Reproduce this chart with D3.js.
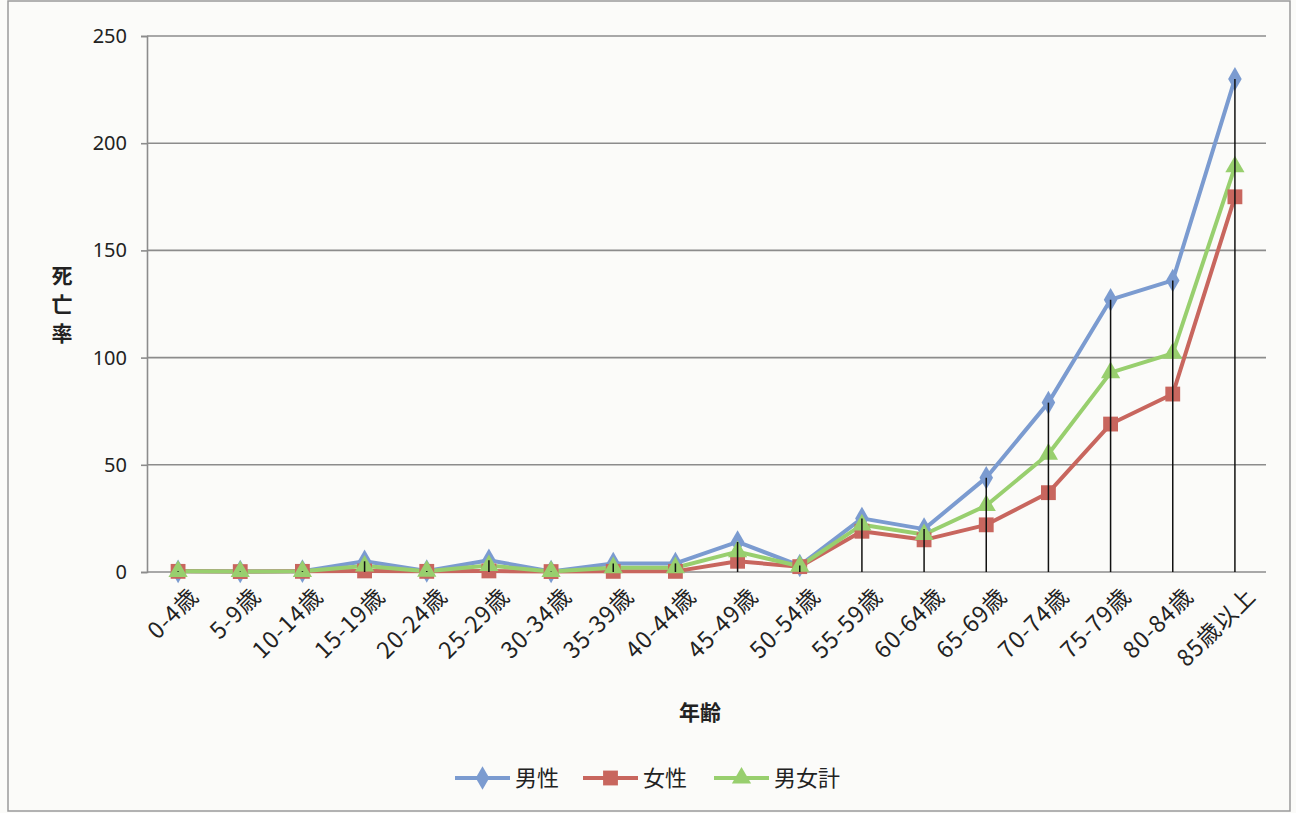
<!DOCTYPE html>
<html><head><meta charset="utf-8">
<script src="https://cdn.jsdelivr.net/npm/d3@7"></script>
<style>
html,body{margin:0;padding:0;background:#fbfbf9;}
svg{display:block;}
text{font-family:"Noto Sans CJK JP","Noto Sans",sans-serif;fill:#222;}
</style></head>
<body>
<svg id="chart" width="1296" height="813"></svg>
<script>
const categories = ["0-4歳","5-9歳","10-14歳","15-19歳","20-24歳","25-29歳","30-34歳","35-39歳","40-44歳","45-49歳","50-54歳","55-59歳","60-64歳","65-69歳","70-74歳","75-79歳","80-84歳","85歳以上"];
const male   = [0.3, 0.2, 0.4, 5, 0.5, 5.5, 0.2, 4, 4, 14, 3, 25, 20, 44, 79, 127, 136, 230];
const female = [0.3, 0.2, 0.3, 0.5, 0.3, 0.5, 0.2, 0.3, 0.3, 5, 2.5, 19, 15, 22, 37, 69, 83, 175];
const total  = [0.3, 0.2, 0.3, 2.8, 0.4, 3, 0.2, 2, 2, 9.5, 2.7, 22, 17.5, 31, 55, 93, 102, 189];
const yTicks = [0, 50, 100, 150, 200, 250];
const seriesNames = ["男性", "女性", "男女計"];
const yTitle = "死亡率";
const xTitle = "年齢";

const series = [
  {name: seriesNames[0], values: male,   color: "#7b9bd0", marker: d3.symbolDiamond, size: 160},
  {name: seriesNames[1], values: female, color: "#c8665e", marker: d3.symbolSquare,  size: 220},
  {name: seriesNames[2], values: total,  color: "#98cf6e", marker: d3.symbolTriangle, size: 160}
];

const svg = d3.select("#chart");
svg.append("rect").attr("x", 8).attr("y", 1).attr("width", 1282).attr("height", 810)
  .attr("fill", "#fbfbf9").attr("stroke", "#9a9a9a").attr("stroke-width", 1.5);

const x = d3.scalePoint().domain(categories).range([147, 1266]).padding(0.5);
const y = d3.scaleLinear().domain([0, 250]).range([572, 36]);

svg.append("g").selectAll("line").data(yTicks.filter(t => t > 0)).join("line")
  .attr("x1", 147).attr("x2", 1266)
  .attr("y1", d => y(d)).attr("y2", d => y(d))
  .attr("stroke", "#8c8c8c").attr("stroke-width", 1.6);

const yAxis = d3.axisLeft(y).tickValues(yTicks).tickSize(6).tickPadding(14);
const gy = svg.append("g").attr("transform", "translate(147,0)").call(yAxis);
gy.select(".domain").attr("stroke", "#8c8c8c").attr("stroke-width", 1.6);
gy.selectAll(".tick line").attr("stroke", "#8c8c8c").attr("stroke-width", 1.6);
gy.selectAll(".tick text").attr("font-size", 20).attr("fill", "#222")
  .style("font-family", '"Noto Sans","Open Sans",sans-serif');

const xAxis = d3.axisBottom(x).tickSize(0).tickPadding(0);
const gx = svg.append("g").attr("transform", `translate(0,${y(0)})`).call(xAxis);
gx.select(".domain").attr("stroke", "#8c8c8c").attr("stroke-width", 1.6).attr("d", `M147,0H1266`);
gx.selectAll(".tick text")
  .attr("font-size", 23).attr("fill", "#222")
  .attr("letter-spacing", "1px")
  .attr("text-anchor", "end")
  .attr("dy", "0.35em")
  .attr("transform", "translate(16,20) rotate(-45)");

const line = d3.line().x((d, i) => x(categories[i])).y(d => y(d));
series.forEach(s => {
  svg.append("path").datum(s.values)
    .attr("fill", "none").attr("stroke", s.color).attr("stroke-width", 4)
    .attr("stroke-linejoin", "round").attr("d", line);
});
series.forEach(s => {
  svg.append("g").selectAll("path").data(s.values).join("path")
    .attr("transform", (d, i) => `translate(${x(categories[i])},${y(d)})`)
    .attr("d", d3.symbol().type(s.marker).size(s.size))
    .attr("fill", s.color);
});

svg.append("g").selectAll("line").data(categories).join("line")
  .attr("x1", d => x(d)).attr("x2", d => x(d))
  .attr("y1", (d, i) => y(Math.max(male[i], female[i], total[i])))
  .attr("y2", y(0))
  .attr("stroke", "#111").attr("stroke-width", 1.5);

const yt = svg.append("text").attr("font-size", 21).attr("font-weight", "bold").attr("text-anchor", "middle");
Array.from(yTitle).forEach((ch, i) => {
  yt.append("tspan").attr("x", 62).attr("y", 283 + i * 29).text(ch);
});

svg.append("text").attr("x", 700).attr("y", 720).attr("text-anchor", "middle")
  .attr("font-size", 21).attr("font-weight", "bold").text(xTitle);

const legendX = [455, 583, 714];
series.forEach((s, i) => {
  const g = svg.append("g").attr("transform", `translate(${legendX[i]},778)`);
  g.append("line").attr("x1", 0).attr("x2", 55).attr("y1", 0).attr("y2", 0)
    .attr("stroke", s.color).attr("stroke-width", 4);
  g.append("path").attr("transform", "translate(27.5,0)")
    .attr("d", d3.symbol().type(s.marker).size(s.size)).attr("fill", s.color);
  g.append("text").attr("x", 60).attr("y", 0).attr("dy", "0.36em")
    .attr("font-size", 22).text(s.name);
});
</script>
</body></html>
